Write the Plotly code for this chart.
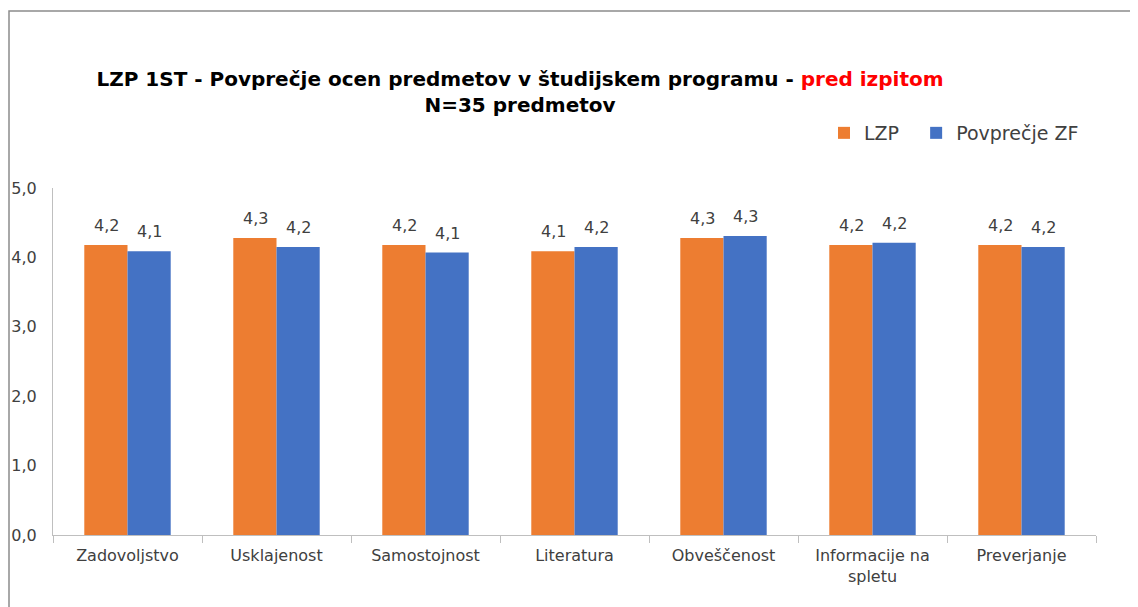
import plotly.graph_objects as go

categories = ["Zadovoljstvo", "Usklajenost", "Samostojnost", "Literatura",
              "Obveščenost", "Informacije na<br>spletu", "Preverjanje"]
lzp = [4.18, 4.28, 4.18, 4.09, 4.28, 4.18, 4.18]
zf = [4.09, 4.15, 4.07, 4.15, 4.31, 4.21, 4.15]
series_names = ["LZP", "Povprečje ZF"]
colors = ["#ED7D31", "#4472C4"]
yticks = [0, 1, 2, 3, 4, 5]

FONT = "DejaVu Sans"
txt = "#404040"

# page body has an 8px margin; figure is sized to fit the 1138x607 window
W, H = 1130, 599
L, R, T, B = 45, 42, 180, 72
PW, PH = W - L - R, H - T - B
BARW = 43  # approx pixel width of one bar (for label offset)

fig = go.Figure()
for i, (name, vals, col) in enumerate(zip(series_names, [lzp, zf], colors)):
    # non-breaking spaces only widen the gap between legend entries
    fig.add_trace(go.Bar(
        x=categories, y=vals, name=name + ("\u00a0\u00a0" if i == 0 else ""),
        marker_color=col, marker_line_width=0,
    ))
    for c, v in zip(categories, vals):
        fig.add_annotation(
            x=c, y=v, text=f"{v:.1f}".replace(".", ","), showarrow=False,
            xanchor="center", yanchor="bottom",
            xshift=(i - 0.5) * BARW, yshift=8,
            font=dict(size=16, color=txt, family=FONT),
        )

fig.update_layout(
    width=W, height=H,
    margin=dict(l=L, r=R, t=T, b=B),
    paper_bgcolor="white", plot_bgcolor="white",
    separators=", ",
    barmode="group", bargap=0.42, bargroupgap=0,
    font=dict(family=FONT, color=txt, size=16),
    title=dict(
        text="<b>LZP 1ST - Povprečje ocen predmetov v študijskem programu - "
             "<span style='color:#FF0000'>pred izpitom</span><br>N=35 predmetov</b>",
        x=512 / W, xanchor="center", xref="container",
        y=1 - 78 / H, yanchor="top",
        font=dict(size=20, color="black", family=FONT),
    ),
    legend=dict(orientation="h", x=(1076 - L) / PW, xanchor="right",
                y=(PH - (125 - T)) / PH,
                yanchor="middle", font=dict(size=19, color=txt, family=FONT),
                traceorder="normal"),
    showlegend=True,
)
fig.update_xaxes(
    showline=True, linecolor="#BFBFBF", linewidth=1,
    ticks="outside", tickson="boundaries", ticklen=7, tickcolor="#BFBFBF",
    tickfont=dict(size=16, color=txt, family=FONT),
    ticklabelstandoff=6, automargin=False,
)
fig.update_yaxes(
    range=[0, 5], tickvals=yticks, tickformat=".1f",
    showgrid=False, zeroline=False,
    showline=True, linecolor="#BFBFBF", linewidth=1,
    ticks="", ticklabelstandoff=12, automargin=False,
    tickfont=dict(size=16, color=txt, family=FONT),
)
# chart frame
fig.add_shape(type="rect", xref="paper", yref="paper",
              x0=(1 - L) / PW, x1=1.2, y0=-0.3, y1=(H - B - 3) / PH,
              line=dict(color="#8C8C8C", width=1.5), layer="below")

fig.write_html("out.html")
